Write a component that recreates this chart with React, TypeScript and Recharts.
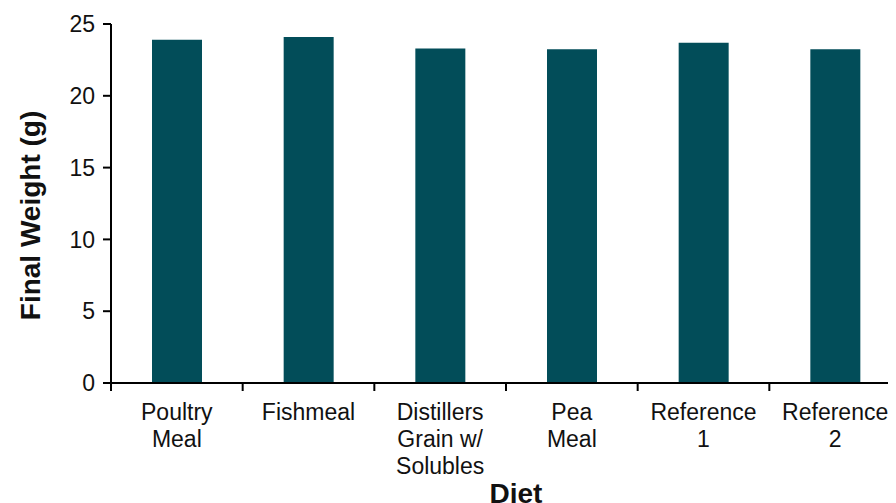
import { Bar, BarChart, Label, XAxis, YAxis } from 'recharts'

const diets = ['Poultry\nMeal', 'Fishmeal', 'Distillers\nGrain w/\nSolubles', 'Pea\nMeal', 'Reference\n1', 'Reference\n2']
const finalWeight = [23.9, 24.1, 23.3, 23.25, 23.7, 23.25]
const yTicks = [0, 5, 10, 15, 20, 25]

const chartData = diets.map((diet, i) => ({ diet, weight: finalWeight[i] }))

const FONT = '"Liberation Sans", Arial, Helvetica, sans-serif'
const BAR_COLOR = '#024d59'

// category labels, plus tick marks on the category boundaries
function DietTick({ x, y, payload, index, visibleTicksCount }: any) {
  const lines = String(payload.value).split('\n')
  const half = payload.offset ?? 0
  const isLast = index === visibleTicksCount - 1
  return (
    <g>
      <line x1={x - half} y1={y} x2={x - half} y2={y + 8} stroke="#000" strokeWidth={2} />
      {isLast ? <line x1={x + half} y1={y} x2={x + half} y2={y + 8} stroke="#000" strokeWidth={2} /> : null}
      <text x={x} y={y} textAnchor="middle" fontFamily={FONT} fontSize={23} fill="#111">
        {lines.map((line, i) => (
          <tspan key={i} x={x} dy={i === 0 ? 37 : 27}>
            {line}
          </tspan>
        ))}
      </text>
    </g>
  )
}

export default function App() {
  return (
    <div style={{ width: 888, height: 495, overflow: 'hidden' }}>
      <BarChart
        width={900}
        height={495}
        data={chartData}
        margin={{ top: 16, right: 7, bottom: 0, left: 0 }}
        barCategoryGap={0}
      >
        <XAxis
          dataKey="diet"
          interval={0}
          tickLine={false}
          tickSize={0}
          tickMargin={0}
          axisLine={{ stroke: '#000', strokeWidth: 2 }}
          tick={<DietTick />}
          height={120}
        >
          <Label
            content={({ viewBox }: any) => (
              <text
                x={viewBox.x + viewBox.width / 2 + 10}
                y={viewBox.y + viewBox.height}
                textAnchor="middle"
                fontFamily={FONT}
                fontWeight="bold"
                fontSize={28}
                fill="#111"
              >
                Diet
              </text>
            )}
          />
        </XAxis>
        <YAxis
          domain={[0, 25]}
          ticks={yTicks}
          width={103}
          tickSize={8}
          tickMargin={8}
          tickLine={{ stroke: '#000', strokeWidth: 2 }}
          axisLine={{ stroke: '#000', strokeWidth: 2 }}
          tick={{ fontFamily: FONT, fontSize: 23, fill: '#111' }}
        >
          <Label
            content={({ viewBox }: any) => {
              const cx = 22
              const cy = viewBox.y + viewBox.height / 2 + 12
              return (
                <text
                  x={cx}
                  y={cy}
                  transform={`rotate(-90, ${cx}, ${cy})`}
                  textAnchor="middle"
                  dominantBaseline="central"
                  fontFamily={FONT}
                  fontWeight="bold"
                  fontSize={28}
                  fill="#111"
                >
                  Final Weight (g)
                </text>
              )
            }}
          />
        </YAxis>
        <Bar dataKey="weight" fill={BAR_COLOR} barSize={50} isAnimationActive={false} />
      </BarChart>
    </div>
  )
}
